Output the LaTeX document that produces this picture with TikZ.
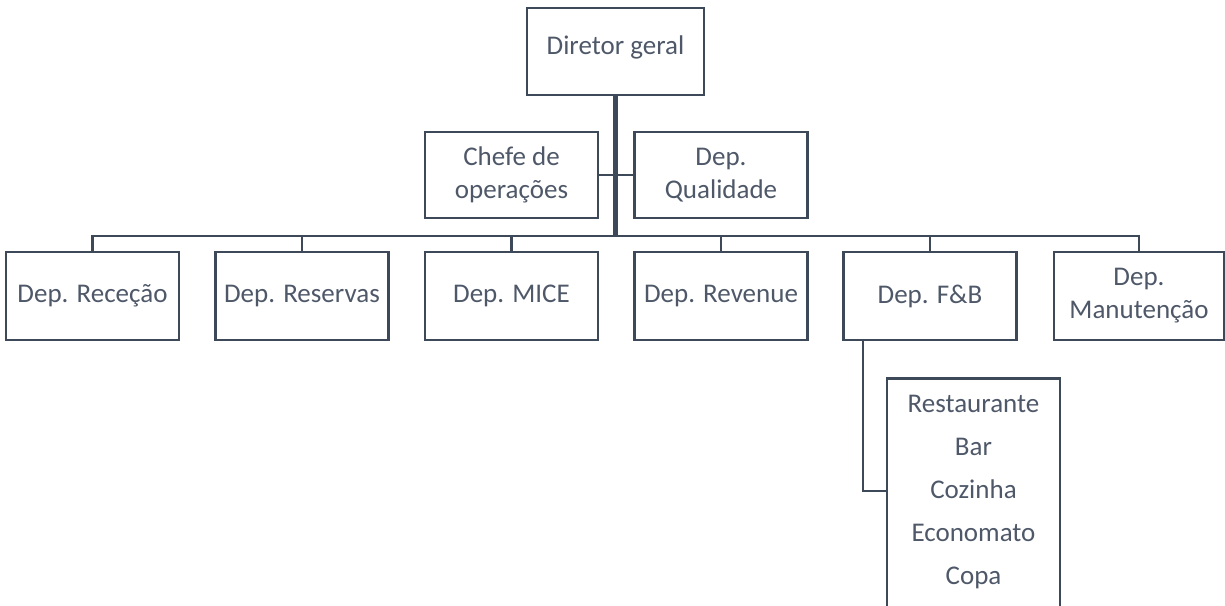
\documentclass[tikz,border=0pt]{standalone}
\usepackage{fontspec}
\setmainfont{Carlito}
\definecolor{edge}{HTML}{3D4858}
\definecolor{ink}{HTML}{4E5868}
\tikzset{
  box/.style={draw=edge, line width=2.6pt, minimum width=173pt, minimum height=86pt, inner sep=2pt, align=center, text=ink, font=\fontsize{27}{33}\selectfont},
  link/.style={draw=edge, line width=2.6pt},
  trunk/.style={draw=edge, line width=4.5pt},
}
\begin{document}
\begin{tikzpicture}[x=1pt,y=-1pt]
\useasboundingbox (0,0) rectangle (1225,605);
\clip (0,0) rectangle (1225,605);
\node[box, minimum width=177pt, minimum height=87pt, text depth=13pt] (dg) at (615.5,51.5) {Diretor geral};
\node[box] (co) at (511.5,175) {Chefe de\\operações};
\node[box] (dq) at (721,175) {Dep.\\Qualidade};
\node[box, minimum height=88pt] (rec) at (92.5,296) {Dep. Receção};
\node[box, minimum height=88pt] (res) at (302,296) {Dep. Reservas};
\node[box, minimum height=88pt] (mice) at (511.5,296) {Dep. MICE};
\node[box, minimum height=88pt] (rev) at (721,296) {Dep. Revenue};
\node[box, minimum height=88pt] (fb) at (930,296) {Dep. F\&B};
\node[box, minimum height=88pt, minimum width=170pt] (man) at (1139,296) {Dep.\\Manutenção};
\node[box, minimum height=270pt, anchor=north] (sub) at (973.5,377) {};
\node[text=ink, font=\fontsize{27}{43}\selectfont, align=center, anchor=north] (subtxt) at (973.5,392) {Restaurante\\Bar\\Cozinha\\Economato\\Copa};
\coordinate (bus) at (615.5,236);
\coordinate (fbk) at (863,491);
% connectors
\draw[link] (co.east) -- (dq.west);
\draw[link] (rec.north) |- (bus) -| (man.north);
\draw[link] (res.north) -- (res.north |- bus);
\draw[link] (mice.north) -- (mice.north |- bus);
\draw[link] (rev.north) -- (rev.north |- bus);
\draw[link] (fb.north) -- (fb.north |- bus);
\draw[link] (fb.south -| fbk) |- (fbk) -- (fbk -| sub.west);
\draw[trunk] (dg.south) -- (bus);
\end{tikzpicture}
\end{document}
